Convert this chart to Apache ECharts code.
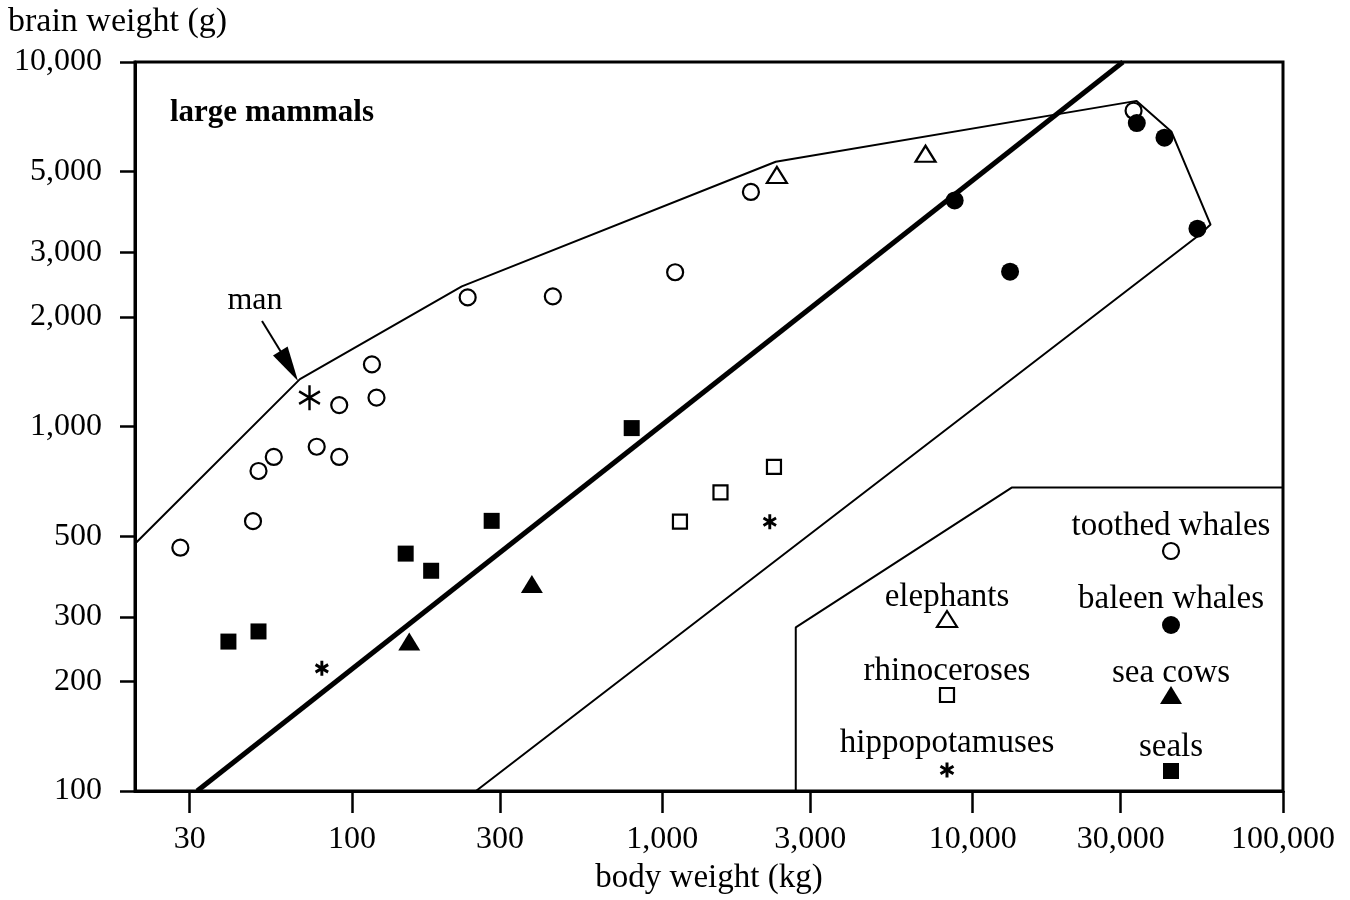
<!DOCTYPE html>
<html>
<head>
<meta charset="utf-8">
<script src="https://cdn.jsdelivr.net/npm/echarts@6/dist/echarts.min.js"></script>
<style>
  html, body { margin: 0; padding: 0; background: #fff; }
  #chart { width: 1350px; height: 900px; }
</style>
</head>
<body>
<div id="chart"></div>
<script>
// Tick values on the two logarithmic axes
const xTicks = [30, 100, 300, 1000, 3000, 10000, 30000, 100000];
const yTicks = [100, 200, 300, 500, 1000, 2000, 3000, 5000, 10000];

// [body weight (kg), brain weight (g)]
const toothedWhales = [[28, 465], [48, 550], [50, 755], [56, 825], [77, 880], [91, 825], [91, 1145],
  [116, 1480], [120, 1200], [236, 2260], [444, 2275], [1100, 2650], [1930, 4400], [33000, 7350]];
const baleenWhales = [[8750, 4170], [13200, 2660], [33800, 6800], [41500, 6200], [53000, 3490]];
const elephants = [[2340, 4900], [7050, 5600]];
const rhinoceroses = [[1140, 548], [1540, 660], [2290, 775]];
const hippopotamuses = [[80, 217], [2220, 548]];
const man = [[73, 1200]];
const seaCows = [[153, 257], [380, 370]];
const seals = [[40, 257], [50, 274], [149, 448], [180, 402], [282, 551], [797, 990]];

// Envelope around the large mammals, the main allometric line and the key's frame
const envelope = [[20, 477], [68, 1349], [226, 2423], [2320, 5325], [33750, 7822], [43740, 6434],
  [58430, 3581], [53440, 3341], [251, 100]];
const trendLine = [[31.7, 100], [30500, 10000]];
const keyFrame = [[2692, 100], [2692, 281], [13360, 680], [100000, 680]];

const FONT = '"Liberation Serif", "Times New Roman", serif';
const INK = '#000';

function asteriskPath(w) {
  const arms = [90, 30, -30].map(function (deg) {
    const a = deg * Math.PI / 180, dx = Math.cos(a), dy = Math.sin(a);
    const nx = -dy * w, ny = dx * w;
    const pts = [[dx - nx, dy - ny], [dx + nx, dy + ny], [-dx + nx, -dy + ny], [-dx - nx, -dy - ny]];
    return 'M' + pts.map(function (p) { return p[0].toFixed(3) + ' ' + p[1].toFixed(3); }).join(' L') + ' Z';
  });
  return 'path://' + arms.join(' ');
}
const boldStar = asteriskPath(0.2);
const thinStar = asteriskPath(0.1);

function fmt(v) { return Math.round(v).toLocaleString('en-US'); }

const openStyle = { color: '#fff', borderColor: INK, borderWidth: 2.2, opacity: 1 };
const fillStyle = { color: INK, opacity: 1 };

function scatter(name, data, symbol, size, style) {
  return { name: name, type: 'scatter', data: data, symbol: symbol, symbolSize: size,
    itemStyle: style, z: 5, silent: true };
}
function polyline(name, data, width) {
  return { name: name, type: 'line', data: data, symbol: 'none', showSymbol: false,
    lineStyle: { color: INK, width: width, opacity: 1 }, z: 3, silent: true, clip: true };
}

const chart = echarts.init(document.getElementById('chart'), null, { renderer: 'canvas' });

// key symbols drawn beside their labels
function keySymbol(kind, cx, cy) {
  if (kind === 'openCircle') return { type: 'circle', shape: { cx: cx, cy: cy, r: 8 }, style: { fill: '#fff', stroke: INK, lineWidth: 2.2 } };
  if (kind === 'fillCircle') return { type: 'circle', shape: { cx: cx, cy: cy, r: 9 }, style: { fill: INK } };
  if (kind === 'openTri') return { type: 'polygon', shape: { points: [[cx - 10, cy + 8], [cx + 10, cy + 8], [cx, cy - 8]] }, style: { fill: '#fff', stroke: INK, lineWidth: 2.2 } };
  if (kind === 'fillTri') return { type: 'polygon', shape: { points: [[cx - 11, cy + 9], [cx + 11, cy + 9], [cx, cy - 9]] }, style: { fill: INK } };
  if (kind === 'openRect') return { type: 'rect', shape: { x: cx - 7, y: cy - 7, width: 14, height: 14 }, style: { fill: '#fff', stroke: INK, lineWidth: 2.2 } };
  if (kind === 'fillRect') return { type: 'rect', shape: { x: cx - 8, y: cy - 8, width: 16, height: 16 }, style: { fill: INK } };
  const r = 7.5, lines = [];
  [90, 30, -30].forEach(function (deg) {
    const a = deg * Math.PI / 180;
    lines.push({ type: 'line', shape: { x1: cx - r * Math.cos(a), y1: cy - r * Math.sin(a), x2: cx + r * Math.cos(a), y2: cy + r * Math.sin(a) }, style: { stroke: INK, lineWidth: 3 } });
  });
  return { type: 'group', children: lines };
}
// label, symbol kind, centre x, label y, symbol y
const keyEntries = [
  ['toothed whales', 'openCircle', 1171, 526, 551],
  ['baleen whales', 'fillCircle', 1171, 599, 625],
  ['sea cows', 'fillTri', 1171, 673, 695],
  ['seals', 'fillRect', 1171, 747, 771],
  ['elephants', 'openTri', 947, 597, 619],
  ['rhinoceroses', 'openRect', 947, 671, 695],
  ['hippopotamuses', 'star', 947, 743, 770]
];
const graphics = [];
keyEntries.forEach(function (e) {
  graphics.push({ type: 'text', x: e[2], y: e[3], z: 10,
    style: { text: e[0], fill: INK, font: '33px ' + FONT, align: 'center', verticalAlign: 'middle' } });
  const s = keySymbol(e[1], e[2], e[4]);
  s.z = 10;
  graphics.push(s);
});
// titles and the "man" pointer
graphics.push({ type: 'text', x: 8, y: 22, z: 10,
  style: { text: 'brain weight (g)', fill: INK, font: '34px ' + FONT, align: 'left', verticalAlign: 'middle' } });
graphics.push({ type: 'text', x: 170, y: 113, z: 10,
  style: { text: 'large mammals', fill: INK, font: 'bold 31px ' + FONT, align: 'left', verticalAlign: 'middle' } });
graphics.push({ type: 'text', x: 255, y: 301, z: 10,
  style: { text: 'man', fill: INK, font: '32px ' + FONT, align: 'center', verticalAlign: 'middle' } });
graphics.push({ type: 'line', z: 10, shape: { x1: 262, y1: 321, x2: 281, y2: 352 }, style: { stroke: INK, lineWidth: 2 } });
graphics.push({ type: 'polygon', z: 10, shape: { points: [[298, 381], [273, 355.4], [287.6, 346.6]] }, style: { fill: INK } });

const option = {
  animation: false,
  backgroundColor: '#fff',
  grid: { left: 135, right: 67, top: 62, bottom: 107, show: true, borderColor: INK, borderWidth: 3, backgroundColor: 'transparent' },
  xAxis: {
    type: 'log', logBase: 10, min: 20, max: 100000,
    axisLine: { show: true, lineStyle: { color: INK, width: 3 } },
    axisTick: { show: true, inside: false, length: 22, customValues: xTicks, lineStyle: { color: INK, width: 2.5 } },
    minorTick: { show: false },
    axisLabel: { customValues: xTicks, formatter: fmt, margin: 33, color: INK, fontFamily: FONT, fontSize: 32 },
    splitLine: { show: false },
    name: 'body weight (kg)', nameLocation: 'middle', nameGap: 71,
    nameTextStyle: { color: INK, fontFamily: FONT, fontSize: 33 }
  },
  yAxis: {
    type: 'log', logBase: 10, min: 100, max: 10000,
    axisLine: { show: true, lineStyle: { color: INK, width: 3 } },
    axisTick: { show: true, inside: false, length: 15, customValues: yTicks, lineStyle: { color: INK, width: 2.5 } },
    minorTick: { show: false },
    axisLabel: { customValues: yTicks, formatter: fmt, margin: 33, color: INK, fontFamily: FONT, fontSize: 32 },
    splitLine: { show: false }
  },
  graphic: graphics,
  series: [
    polyline('envelope', envelope, 2),
    polyline('trend', trendLine, 5),
    polyline('key frame', keyFrame, 2),
    scatter('toothed whales', toothedWhales, 'circle', 16, openStyle),
    scatter('baleen whales', baleenWhales, 'circle', 18, fillStyle),
    scatter('elephants', elephants, 'triangle', [20, 16], openStyle),
    scatter('rhinoceroses', rhinoceroses, 'rect', 14, openStyle),
    scatter('hippopotamuses', hippopotamuses, boldStar, [14, 15], fillStyle),
    scatter('man', man, thinStar, [22, 25], fillStyle),
    scatter('sea cows', seaCows, 'triangle', [22, 18], fillStyle),
    scatter('seals', seals, 'rect', 16, fillStyle)
  ]
};
chart.setOption(option);
</script>
</body>
</html>
